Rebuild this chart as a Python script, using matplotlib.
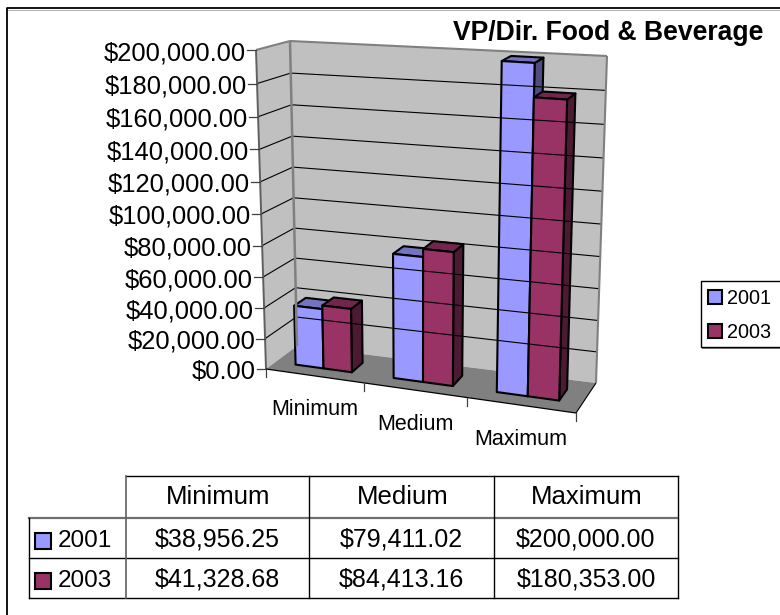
import matplotlib
matplotlib.use('Agg')
import matplotlib.pyplot as plt
from matplotlib.patches import Polygon, Rectangle

plt.rcParams['font.family'] = ['Liberation Sans', 'DejaVu Sans']

# Данные
categories = ['Minimum', 'Medium', 'Maximum']
years = ['2001', '2003']
values_2001 = [38956.25, 79411.02, 200000.00]
values_2003 = [41328.68, 84413.16, 180353.00]
value_ticks = list(range(0, 200001, 20000))

# Цвета как в Excel
FRONT = ['#9999FF', '#993366']
TOP = ['#7373C0', '#73264D']
SIDE = ['#4D4D80', '#4D1A33']
WALL = '#C0C0C0'
FLOOR = '#808080'
EDGE = '#808080'

# Углы коробки графика в пикселях: (x, значение, глубина)
CORNERS = {
    (0, 0, 0): (266, 369), (1, 0, 0): (576, 413),
    (0, 1, 0): (256, 50), (1, 1, 0): (586, 71),
    (0, 0, 1): (297, 346), (1, 0, 1): (596, 383),
    (0, 1, 1): (290, 41), (1, 1, 1): (607, 56),
}
YMAX = 200000.0
K_X = 0.08    # перспективное сжатие по x
K_Y = 0.0576  # и по значению


# Проекция: категория, значение, глубина -> пиксели
def project(cat, val, depth):
    u = cat / len(categories)
    v = val / YMAX
    u = u / (1 + K_X * (1 - u))
    v = v / (1 + K_Y * (1 - v))
    x = y = 0.0
    for (a, b, c), (px, py) in CORNERS.items():
        w = (u if a else 1 - u) * (v if b else 1 - v) * (depth if c else 1 - depth)
        x += w * px
        y += w * py
    return x, y


def poly(ax, points, **kw):
    ax.add_patch(Polygon([project(*p) for p in points], closed=True, **kw))


def line(ax, p1, p2, **kw):
    a, b = project(*p1), project(*p2)
    ax.plot([a[0], b[0]], [a[1], b[1]], solid_capstyle='butt', **kw)


def draw_bar(ax, x0, x1, val, i):
    d0, d1 = 0.31, 0.69
    st = dict(edgecolor='black', linewidth=1.5, joinstyle='round')
    poly(ax, [(x1, 0, d0), (x1, 0, d1), (x1, val, d1), (x1, val, d0)], facecolor=SIDE[i], **st)
    poly(ax, [(x0, val, d0), (x1, val, d0), (x1, val, d1), (x0, val, d1)], facecolor=TOP[i], **st)
    poly(ax, [(x0, 0, d0), (x1, 0, d0), (x1, val, d0), (x0, val, d0)], facecolor=FRONT[i], **st)


def swatch(ax, x, y, color, size=13):
    ax.add_patch(Rectangle((x, y), size, size, facecolor=color, edgecolor='black', linewidth=1.5))


fig = plt.figure(figsize=(7.8, 6.15), dpi=100)
ax = fig.add_axes([0, 0, 1, 1])
ax.set_xlim(0, 780)
ax.set_ylim(615, 0)
ax.axis('off')

# Рамка: справа и снизу обрезана
ax.plot([7, 7, 780], [615, 8, 8], color='black', lw=1.3)
ax.plot([8, 780], [9.5, 9.5], color='#B0B0B0', lw=0.7)

n = len(categories)

# Стены и пол
poly(ax, [(0, 0, 0), (0, 0, 1), (0, YMAX, 1), (0, YMAX, 0)], facecolor=WALL, edgecolor='none')
poly(ax, [(0, 0, 1), (n, 0, 1), (n, YMAX, 1), (0, YMAX, 1)], facecolor=WALL, edgecolor='none')
poly(ax, [(0, 0, 0), (n, 0, 0), (n, 0, 1), (0, 0, 1)], facecolor=FLOOR, edgecolor='none')

# Сетка
for t in value_ticks[1:-1]:
    line(ax, (0, t, 0), (0, t, 1), color='black', lw=0.8)
    line(ax, (0, t, 1), (n, t, 1), color='black', lw=0.8)

# Контур стен
line(ax, (0, YMAX, 0), (0, YMAX, 1), color=EDGE, lw=1.5)
line(ax, (0, YMAX, 1), (n, YMAX, 1), color=EDGE, lw=1.5)
line(ax, (0, 0, 1), (0, YMAX, 1), color=EDGE, lw=1.8)
line(ax, (n, 0, 1), (n, YMAX, 1), color=EDGE, lw=1.5)

# Столбцы
bar_w = 0.29
for c in range(n):
    mid = c + 0.5
    draw_bar(ax, mid - bar_w, mid, values_2001[c], 0)
    draw_bar(ax, mid, mid + bar_w, values_2003[c], 1)

# Ось значений
line(ax, (0, 0, 0), (0, YMAX, 0), color='#606060', lw=1.4)
for t in value_ticks:
    x, y = project(0, t, 0)
    ax.plot([x - 9, x], [y, y], color='#404040', lw=0.9)
    ax.text(x - 10, y + 3, f'${t:,.2f}', ha='right', va='center', fontsize=18.4, color='black')

# Ось категорий
line(ax, (0, 0, 0), (n, 0, 0), color='black', lw=0.9)
line(ax, (n, 0, 0), (n, 0, 1), color='black', lw=0.8)
for c in range(n + 1):
    x, y = project(c, 0, 0)
    ax.plot([x, x], [y, y + 8], color='#404040', lw=0.9)
for c, name in enumerate(categories):
    x, y = project(c + 0.5, 0, 0)
    ax.text(x, y + 34, name, ha='center', va='center', fontsize=15.5)

# Заголовок
ax.text(763, 33, 'VP/Dir. Food & Beverage', ha='right', va='center', fontsize=19.1, fontweight='bold')

# Легенда
ax.add_patch(Rectangle((702, 283), 90, 66, facecolor='#808080', edgecolor='none'))
ax.add_patch(Rectangle((701, 281), 90, 66, facecolor='white', edgecolor='black', linewidth=1))
for i, year in enumerate(years):
    swatch(ax, 708, 290 + 33.5 * i, FRONT[i], size=14)
    ax.text(727, 298 + 34 * i, year, ha='left', va='center', fontsize=14.3)

# Таблица
col_x = [126, 309, 494, 678]
row_y = [476, 518, 558, 598]
ax.plot([126, 678], [476, 476], color='black', lw=1)
ax.plot([29, 678], [518, 518], color='#707070', lw=1.6)
ax.plot([29, 678], [558, 558], color='black', lw=1)
ax.plot([29, 678], [598, 598], color='black', lw=1)
ax.plot([29, 29], [518, 598], color='black', lw=1)
ax.plot([126, 126], [476, 598], color='#606060', lw=1.2)
for x in col_x[1:]:
    ax.plot([x, x], [476, 598], color='black', lw=1)
for j, name in enumerate(categories):
    ax.text((col_x[j] + col_x[j + 1]) / 2 + 1, 497, name, ha='center', va='center', fontsize=18.5)
for i, vals in enumerate([values_2001, values_2003]):
    ym = (row_y[i + 1] + row_y[i + 2]) / 2
    swatch(ax, 35, ym - 5, FRONT[i], size=16)
    ax.text(58, ym + 3, years[i], ha='left', va='center', fontsize=17.5)
    for j, v in enumerate(vals):
        ax.text((col_x[j] + col_x[j + 1]) / 2, ym + 2, f'${v:,.2f}', ha='center', va='center', fontsize=18)

fig.savefig('out.png', dpi=100)
